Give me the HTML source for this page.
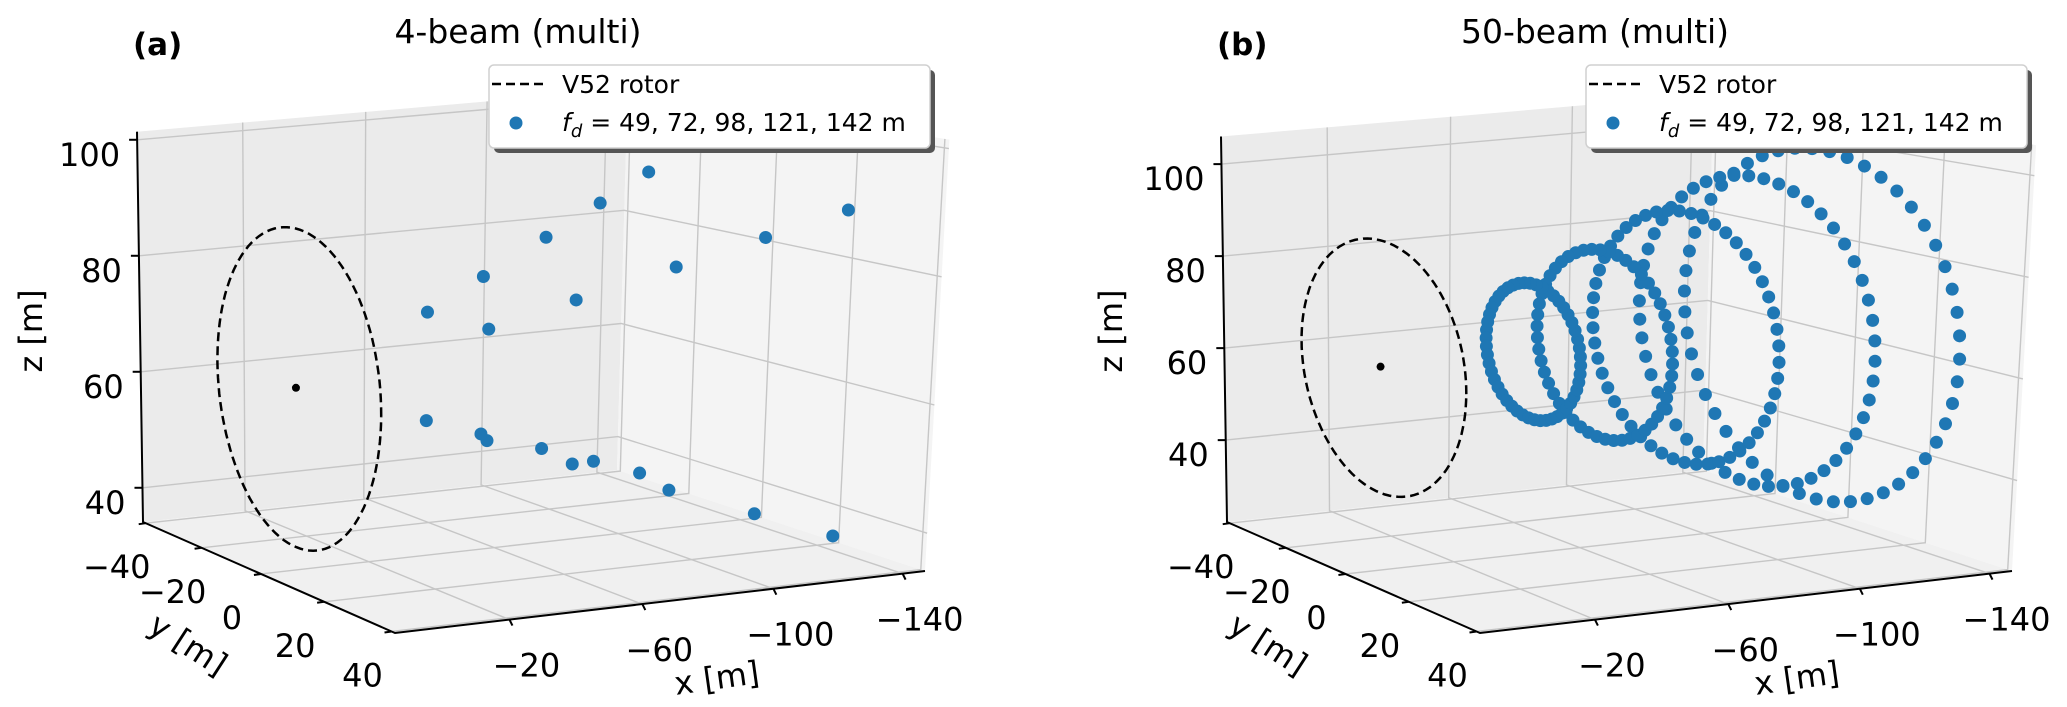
<!DOCTYPE html>
<html><head><meta charset="utf-8"><style>
html,body{margin:0;padding:0;background:#fff;}
svg{display:block;}
text{font-family:"DejaVu Sans","Liberation Sans",sans-serif;fill:#000;}
</style></head><body>
<svg id="fig" width="2067" height="707" viewBox="0 0 2067 707" xmlns="http://www.w3.org/2000/svg"></svg>
<script>
// ---- data ----
const xTicks = [-20, -60, -100, -140];
const yTicks = [-40, -20, 0, 20, 40];
const zTicks = [40, 60, 80, 100];
const focusDistances = [49, 72, 98, 121, 142];
const rotorRadius = 26;
const hubY = -3;
const hubZ = 63;
// panel (a): 4-beam measurement points
const aX = [-47.3,-47.3,-47.3,-47.3,-69.5,-69.5,-69.5,-69.5,-94.7,-94.7,-94.7,-94.7,-116.9,-116.9,-116.9,-116.9,-137.2,-137.2,-137.2,-137.2];
const aY = [-9.0,9.0,-9.0,9.0,-13.2,13.2,-13.2,13.2,-17.9,17.9,-17.9,17.9,-22.1,22.1,-22.1,22.1,-26.0,26.0,-26.0,26.0];
const aZ = [72,72,54,54,76.2,76.2,49.8,49.8,80.9,80.9,45.1,45.1,85.1,85.1,40.9,40.9,89,89,37,37];
// panel (b): 50-beam scan rings
const ringX = [-47.3, -69.5, -94.7, -116.9, -137.2];
const ringR = [14, 19.5, 26, 32, 36.5];
const beamsPerRing = 50;

const NS = "http://www.w3.org/2000/svg";
const svg = document.getElementById('fig');
function el(tag, attrs, parent, txt){
  const e = document.createElementNS(NS, tag);
  for (const k in attrs) e.setAttribute(k, attrs[k]);
  if (txt !== undefined) e.textContent = txt;
  (parent || svg).appendChild(e);
  return e;
}
function makeProj(P){
  const [x0,y0]=P.A,[x1,y1]=P.D,[x2,y2]=P.C,[x3,y3]=P.B;
  const dx1=x1-x2,dx2=x3-x2,dx3=x0-x1+x2-x3,dy1=y1-y2,dy2=y3-y2,dy3=y0-y1+y2-y3;
  const den=dx1*dy2-dx2*dy1;
  const g=(dx3*dy2-dx2*dy3)/den, h=(dx1*dy3-dx3*dy1)/den;
  const a=x1-x0+g*x1,b=x3-x0+h*x3,c=x0,d=y1-y0+g*y1,e=y3-y0+h*y3,f=y0;
  return function(x,y,z){
    const u=(x-P.xlim[1])/(P.xlim[0]-P.xlim[1]);
    const v=(y-P.ylim[0])/(P.ylim[1]-P.ylim[0]);
    const w=g*u+h*v+1;
    let X=(a*u+b*v+c)/w, Y=(d*u+e*v+f)/w;
    const hp=(z-P.zlim[0])*P.k/w;
    Y-=hp; X+=(X-P.X0)*hp*9.2e-5;
    return [X,Y];
  };
}
function pts(arr){return arr.map(p=>p[0].toFixed(1)+','+p[1].toFixed(1)).join(' ');}

function drawPanel(P, label, title, name){
  const g = el('g', {}, svg);
  
  
  const pr = makeProj(P);
  const [xmin,xmax]=P.xlim,[ymin,ymax]=P.ylim,[zmin,zmax]=P.zlim;
  const back = el('polygon',{points:pts([pr(xmax,ymin,zmin),pr(xmin,ymin,zmin),pr(xmin,ymin,zmax),pr(xmax,ymin,zmax)]),fill:'#ebebeb'},g);
   
  const right = el('polygon',{points:pts([pr(xmin,ymin,zmin),pr(xmin,ymax,zmin),pr(xmin,ymax,zmax),pr(xmin,ymin,zmax)]),fill:'#f4f4f4'},g);
   
  const floor = el('polygon',{points:pts([pr(xmax,ymin,zmin),pr(xmax,ymax,zmin),pr(xmin,ymax,zmin),pr(xmin,ymin,zmin)]),fill:'#f0f0f0'},g);
   
  const gg = el('g',{stroke:'#c6c6c6','stroke-width':1.4,fill:'none'},g);
   
  xTicks.forEach(x=>{
    el('polyline',{points:pts([pr(x,ymax,zmin),pr(x,ymin,zmin),pr(x,ymin,zmax)])},gg);
  });
  yTicks.forEach(y=>{
    el('polyline',{points:pts([pr(xmax,y,zmin),pr(xmin,y,zmin),pr(xmin,y,zmax)])},gg);
  });
  zTicks.forEach(z=>{
    el('polyline',{points:pts([pr(xmax,ymin,z),pr(xmin,ymin,z),pr(xmin,ymax,z)])},gg);
  });
  const rp=[];
  for(let i=0;i<=120;i++){const t=i/120*2*Math.PI;rp.push(pr(0,hubY+rotorRadius*Math.cos(t),hubZ+rotorRadius*Math.sin(t)));}
  const rot = el('polyline',{points:pts(rp),fill:'none',stroke:'#000','stroke-width':2.5,'stroke-dasharray':'9,5'},g);
   
  const hc=pr(0,hubY,hubZ);
  const hub = el('circle',{cx:hc[0],cy:hc[1],r:4,fill:'#000'},g);
   
  const dg = el('g',{fill:'#1f77b4'},g);
   
  P.drawData(pr, dg);
  const ag = el('g',{stroke:'#000','stroke-width':2,fill:'none'},g);
   
  el('polyline',{points:pts([pr(xmax,ymin,zmax),pr(xmax,ymin,zmin),pr(xmax,ymax,zmin),pr(xmin,ymax,zmin)])},ag);
  xTicks.forEach(x=>{
    const p=pr(x,ymax,zmin);
    el('line',{x1:p[0],y1:p[1],x2:p[0]+3,y2:p[1]+6},ag);
    const t=el('text',{x:p[0]+17,y:p[1]+57,'font-size':32,'text-anchor':'middle',stroke:'none'},g,'\u2212'+Math.abs(x));
     
  });
  yTicks.forEach(y=>{
    const p=pr(xmax,y,zmin);
    el('line',{x1:p[0],y1:p[1],x2:p[0]-7,y2:p[1]+1},ag);
    const t=el('text',{x:p[0]-29,y:p[1]+55,'font-size':32,'text-anchor':'middle',stroke:'none'},g,(y<0?'\u2212':'')+Math.abs(y));
     
  });
  zTicks.forEach(z=>{
    const p=pr(xmax,ymin,z);
    el('line',{x1:p[0]-8,y1:p[1],x2:p[0],y2:p[1]},ag);
    const t=el('text',{x:p[0]-17,y:p[1]+26,'font-size':32,'text-anchor':'end',stroke:'none'},g,String(z));
     
  });
  const o=P.off;
  let t=el('text',{x:o+33,y:331,'font-size':32,'text-anchor':'middle','dominant-baseline':'middle',transform:`rotate(-90 ${o+33} 331)`},g,'z [m]');
   
  t=el('text',{x:o+187,y:646,'font-size':32,'text-anchor':'middle','dominant-baseline':'middle',transform:`rotate(33 ${o+187} 646)`},g,'y [m]');
   
  t=el('text',{x:o+717,y:680,'font-size':32,'text-anchor':'middle','dominant-baseline':'middle',transform:`rotate(-8 ${o+717} 680)`},g,'x [m]');
   
  t=el('text',{x:P.titleX,y:43,'font-size':33,'text-anchor':'middle'},g,title);
   
  t=el('text',{x:P.labelX,y:55,'font-size':31,'font-weight':'bold'},g,label);
   
  const L=P.legX;
  const lg=el('g',{},g);
   
  el('rect',{x:L+5,y:70,width:441,height:83,rx:5,fill:'#555'},lg);
  el('rect',{x:L,y:65,width:441,height:83,rx:5,fill:'#fff',stroke:'#d0d0d0','stroke-width':1.5},lg);
  const e1=el('line',{x1:L+3,y1:84,x2:L+54,y2:84,stroke:'#000','stroke-width':2.5,'stroke-dasharray':'9,5'},lg);
   
  t=el('text',{x:L+73,y:93,'font-size':25},lg,'V52 rotor');
   
  const e2=el('circle',{cx:L+27,cy:123,r:6.5,fill:'#1f77b4'},lg);
   
  t=el('text',{x:L+73,y:131,'font-size':25},lg);
   
  el('tspan',{'font-style':'italic'},t,'f');
  el('tspan',{'font-style':'italic','font-size':18,dy:6},t,'d');
  el('tspan',{dy:-6},t,' = '+focusDistances.join(', ')+' m');
}

drawPanel({A:[143,522],B:[395,633],C:[925,571],D:[617,470],xlim:[-147,14],ylim:[-41,41],zlim:[34.1,101.4],k:5.8,X0:311,off:0,
  titleX:518,labelX:133,legX:489,
  drawData:function(pr,dg){
    for(let i=0;i<aX.length;i++){
      const p=pr(aX[i],aY[i],aZ[i]);
      const c=el('circle',{cx:p[0],cy:p[1],r:6.5},dg);
      
      
    }
  }}, '(a)', '4-beam (multi)', 'panel-a');

drawPanel({A:[1227,522],B:[1480,633],C:[2012,571],D:[1703,470],xlim:[-147,14],ylim:[-41,41],zlim:[22.2,106],k:4.6,X0:1396,off:1080,
  titleX:1595,labelX:1217,legX:1586,
  drawData:function(pr,dg){
    for(let r=ringX.length-1;r>=0;r--){
      for(let j=0;j<beamsPerRing;j++){
        const t=j/beamsPerRing*2*Math.PI;
        const p=pr(ringX[r],hubY+ringR[r]*Math.cos(t),hubZ+ringR[r]*Math.sin(t));
        const c=el('circle',{cx:p[0],cy:p[1],r:6.5},dg);
        
        
      }
    }
  }}, '(b)', '50-beam (multi)', 'panel-b');
</script>
</body></html>
